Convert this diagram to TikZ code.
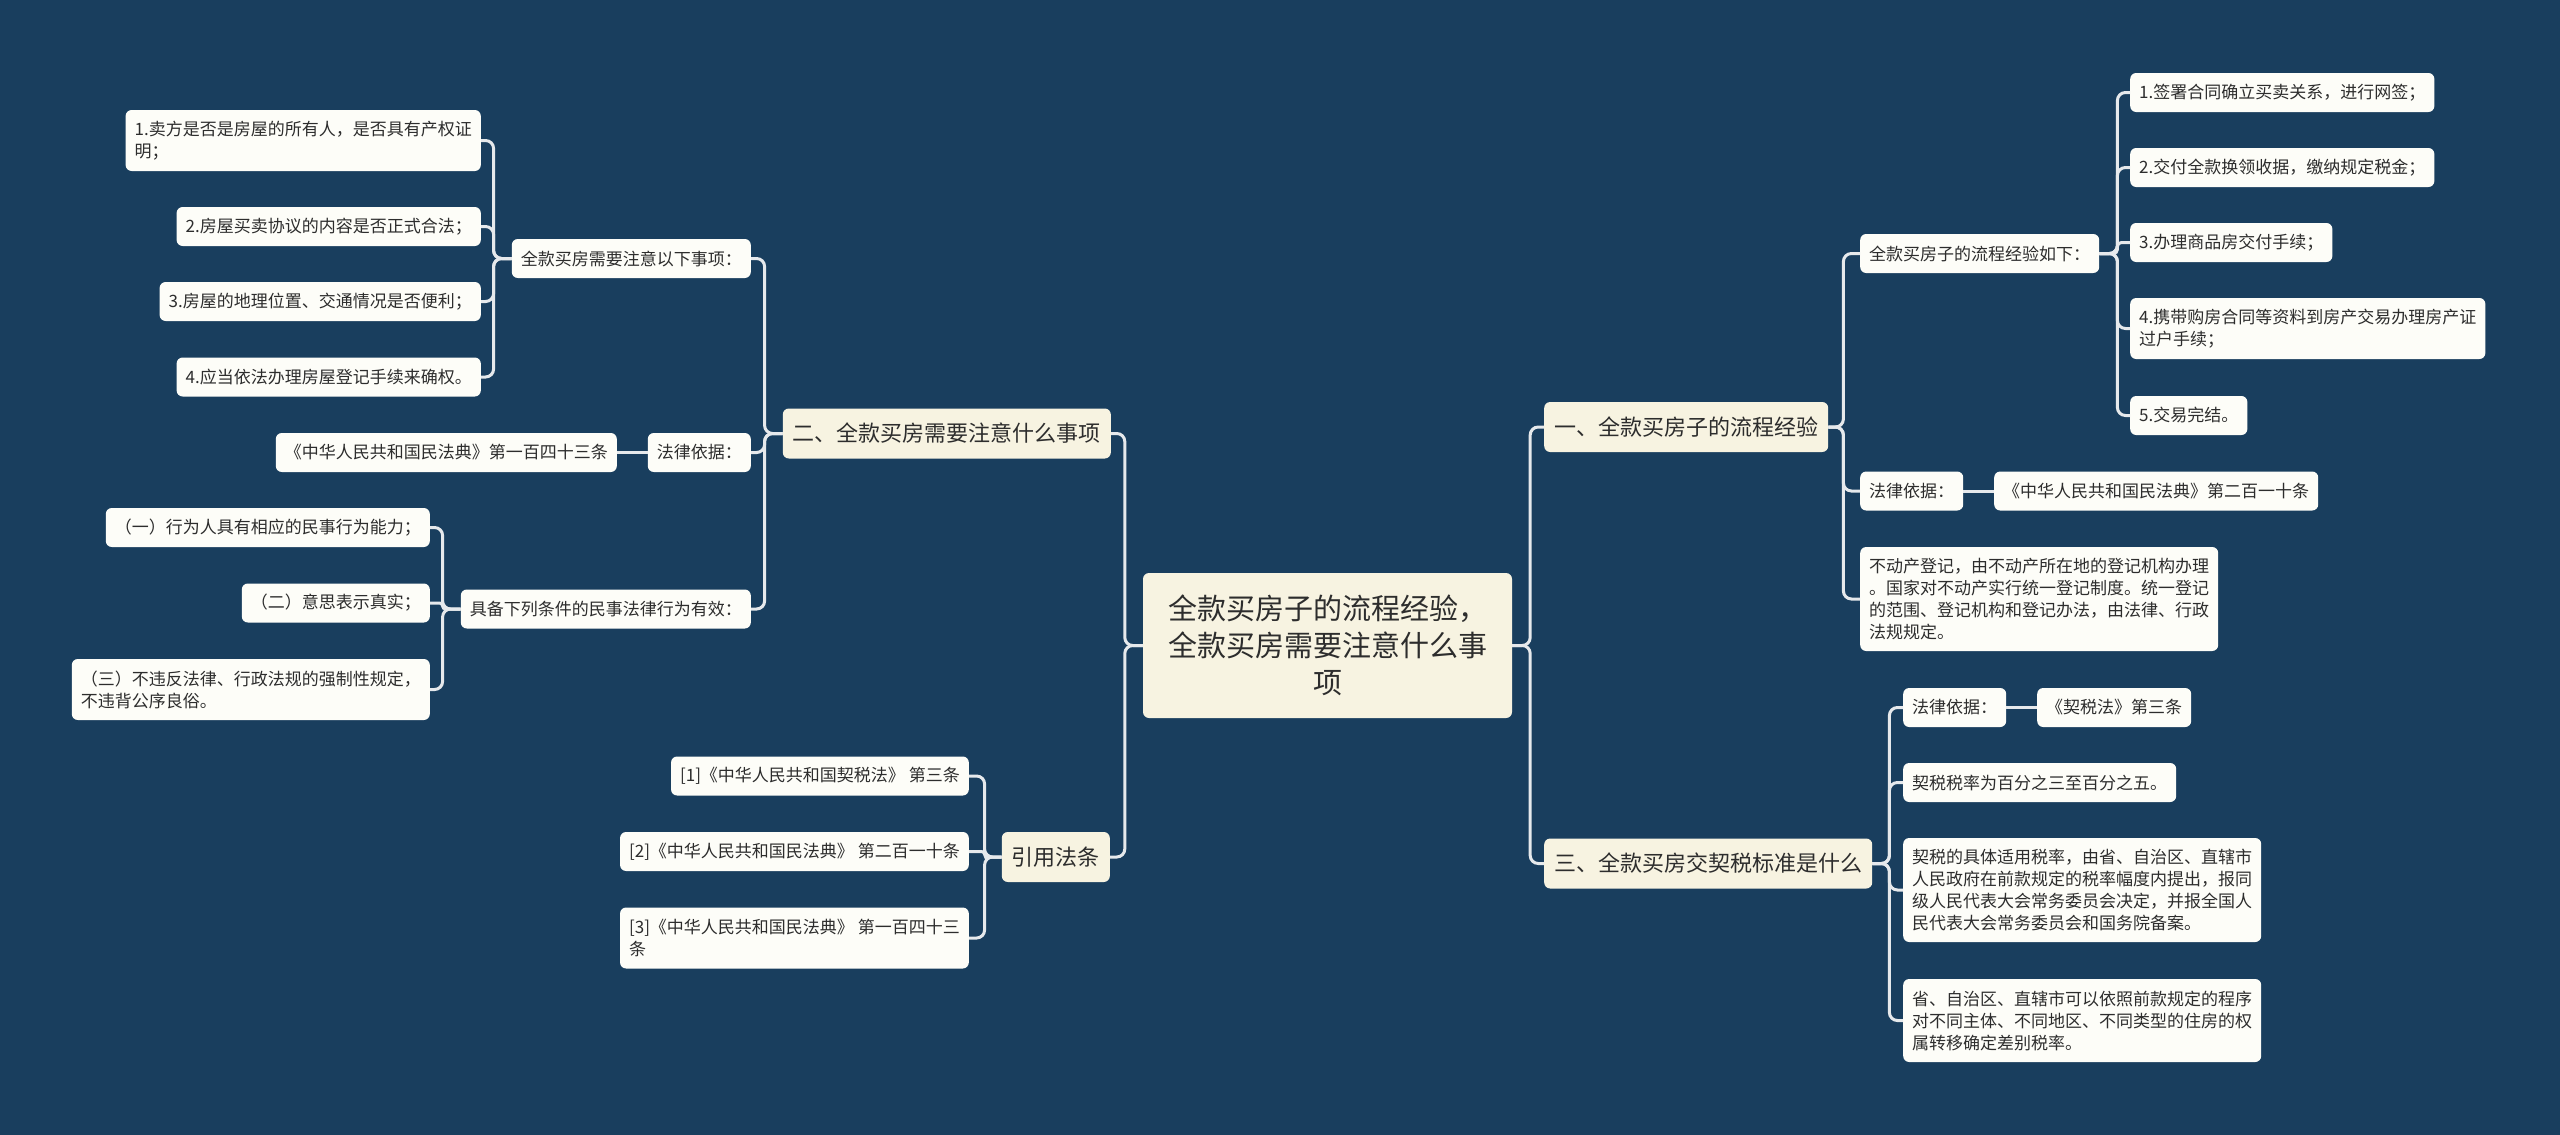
\documentclass[tikz,border=0pt]{standalone}
\usepackage{fontspec}
\newfontfamily\cjk{Noto Sans CJK SC}
\usepackage{tikz}
\definecolor{bgblue}{RGB}{25,62,94}
\definecolor{cream}{RGB}{247,243,225}
\definecolor{paper}{RGB}{253,253,248}
\definecolor{ink}{RGB}{45,45,45}
\definecolor{wire}{RGB}{230,233,236}

\begin{document}
\begin{tikzpicture}[x=1pt,y=-1pt,
	root/.style={fill=cream, rounded corners=6, text=ink, align=center, minimum width=369, minimum height=145, font=\cjk\fontsize{29}{37}\selectfont},
	topic/.style={fill=cream, rounded corners=6, text=ink, inner xsep=10, minimum height=50, font=\cjk\fontsize{22}{26}\selectfont},
	leaf/.style={fill=paper, rounded corners=6, text=ink, align=left, inner xsep=9, inner ysep=4, minimum height=39, font=\cjk\fontsize{17}{22}\selectfont},
	link/.style={draw=wire, line width=3, rounded corners=8}]
	\useasboundingbox (0,0) rectangle (2560,1135);
	\fill[bgblue] (0,0) rectangle (2560,1135);

	% centre
	\node[root] (root) at (1327.5,645.5) {全款买房子的流程经验，\\全款买房需要注意什么事\\项};

	% left half
	\node[topic, anchor=east] (t2) at (1111,433.5) {二、全款买房需要注意什么事项};
	\node[topic, anchor=east] (t4) at (1110,857) {引用法条};
	\node[leaf, anchor=east] (a) at (751,258.5) {全款买房需要注意以下事项：};
	\node[leaf, anchor=east] (b) at (751,452.5) {法律依据：};
	\node[leaf, anchor=east] (c) at (751,609) {具备下列条件的民事法律行为有效：};
	\node[leaf, anchor=east, minimum height=61] (a1) at (481,140.5) {1.卖方是否是房屋的所有人，是否具有产权证\\明；};
	\node[leaf, anchor=east] (a2) at (481,226.5) {2.房屋买卖协议的内容是否正式合法；};
	\node[leaf, anchor=east] (a3) at (481,301.5) {3.房屋的地理位置、交通情况是否便利；};
	\node[leaf, anchor=east] (a4) at (481,377) {4.应当依法办理房屋登记手续来确权。};
	\node[leaf, anchor=east] (b1) at (617,452.5) {《中华人民共和国民法典》第一百四十三条};
	\node[leaf, anchor=east] (c1) at (430,527.5) {（一）行为人具有相应的民事行为能力；};
	\node[leaf, anchor=east] (c2) at (430,603) {（二）意思表示真实；};
	\node[leaf, anchor=east, minimum height=61] (c3) at (430,689.5) {（三）不违反法律、行政法规的强制性规定，\\不违背公序良俗。};
	\node[leaf, anchor=east] (r1) at (969,776) {[1]《中华人民共和国契税法》 第三条};
	\node[leaf, anchor=east] (r2) at (969,851.5) {[2]《中华人民共和国民法典》 第二百一十条};
	\node[leaf, anchor=east, minimum height=61] (r3) at (969,938) {[3]《中华人民共和国民法典》 第一百四十三\\条};

	% right half
	\node[topic, anchor=west] (t1) at (1544,427) {一、全款买房子的流程经验};
	\node[topic, anchor=west] (t3) at (1544,863.5) {三、全款买房交契税标准是什么};
	\node[leaf, anchor=west] (p) at (1860,253.5) {全款买房子的流程经验如下：};
	\node[leaf, anchor=west] (q) at (1860,491) {法律依据：};
	\node[leaf, anchor=west, minimum height=104] (s) at (1860,599) {不动产登记，由不动产所在地的登记机构办理\\。国家对不动产实行统一登记制度。统一登记\\的范围、登记机构和登记办法，由法律、行政\\法规规定。};
	\node[leaf, anchor=west] (p1) at (2130,92.5) {1.签署合同确立买卖关系，进行网签；};
	\node[leaf, anchor=west] (p2) at (2130,167.5) {2.交付全款换领收据，缴纳规定税金；};
	\node[leaf, anchor=west] (p3) at (2130,242.5) {3.办理商品房交付手续；};
	\node[leaf, anchor=west, minimum height=61] (p4) at (2130,328.5) {4.携带购房合同等资料到房产交易办理房产证\\过户手续；};
	\node[leaf, anchor=west] (p5) at (2130,415.5) {5.交易完结。};
	\node[leaf, anchor=west] (q1) at (1994,491) {《中华人民共和国民法典》第二百一十条};
	\node[leaf, anchor=west] (u) at (1903,707.5) {法律依据：};
	\node[leaf, anchor=west] (u1) at (2037,707.5) {《契税法》第三条};
	\node[leaf, anchor=west] (v) at (1903,782.5) {契税税率为百分之三至百分之五。};
	\node[leaf, anchor=west, minimum height=104] (w) at (1903,890) {契税的具体适用税率，由省、自治区、直辖市\\人民政府在前款规定的税率幅度内提出，报同\\级人民代表大会常务委员会决定，并报全国人\\民代表大会常务委员会和国务院备案。};
	\node[leaf, anchor=west, minimum height=83] (z) at (1903,1020.5) {省、自治区、直辖市可以依照前款规定的程序\\对不同主体、不同地区、不同类型的住房的权\\属转移确定差别税率。};

	% links, left
	\foreach \k in {t2,t4} \draw[link] (root.west) -- ++(-18,0) |- (\k.east);
	\foreach \k in {a,b,c} \draw[link] (t2.west) -- ++(-18,0) |- (\k.east);
	\foreach \k in {a1,a2,a3,a4} \draw[link] (a.west) -- ++(-18,0) |- (\k.east);
	\draw[link] (b.west) -- (b1.east);
	\foreach \k in {c1,c3} \draw[link] (c.west) -- ++(-18,0) |- (\k.east);
	\draw[link, rounded corners=3] (c.west) -- ++(-18,0) |- (c2.east);
	\foreach \k in {r1,r3} \draw[link] (t4.west) -- ++(-17,0) |- (\k.east);
	\draw[link, rounded corners=3] (t4.west) -- ++(-17,0) |- (r2.east);

	% links, right
	\foreach \k in {t1,t3} \draw[link] (root.east) -- ++(18,0) |- (\k.west);
	\foreach \k in {p,q,s} \draw[link] (t1.east) -- ++(15,0) |- (\k.west);
	\foreach \k in {p1,p2,p4,p5} \draw[link] (p.east) -- ++(18,0) |- (\k.west);
	\draw[link, rounded corners=4] (p.east) -- ++(18,0) |- (p3.west);
	\draw[link] (q.east) -- (q1.west);
	\foreach \k in {u,v,w,z} \draw[link] (t3.east) -- ++(17,0) |- (\k.west);
	\draw[link] (u.east) -- (u1.west);
\end{tikzpicture}
\end{document}
